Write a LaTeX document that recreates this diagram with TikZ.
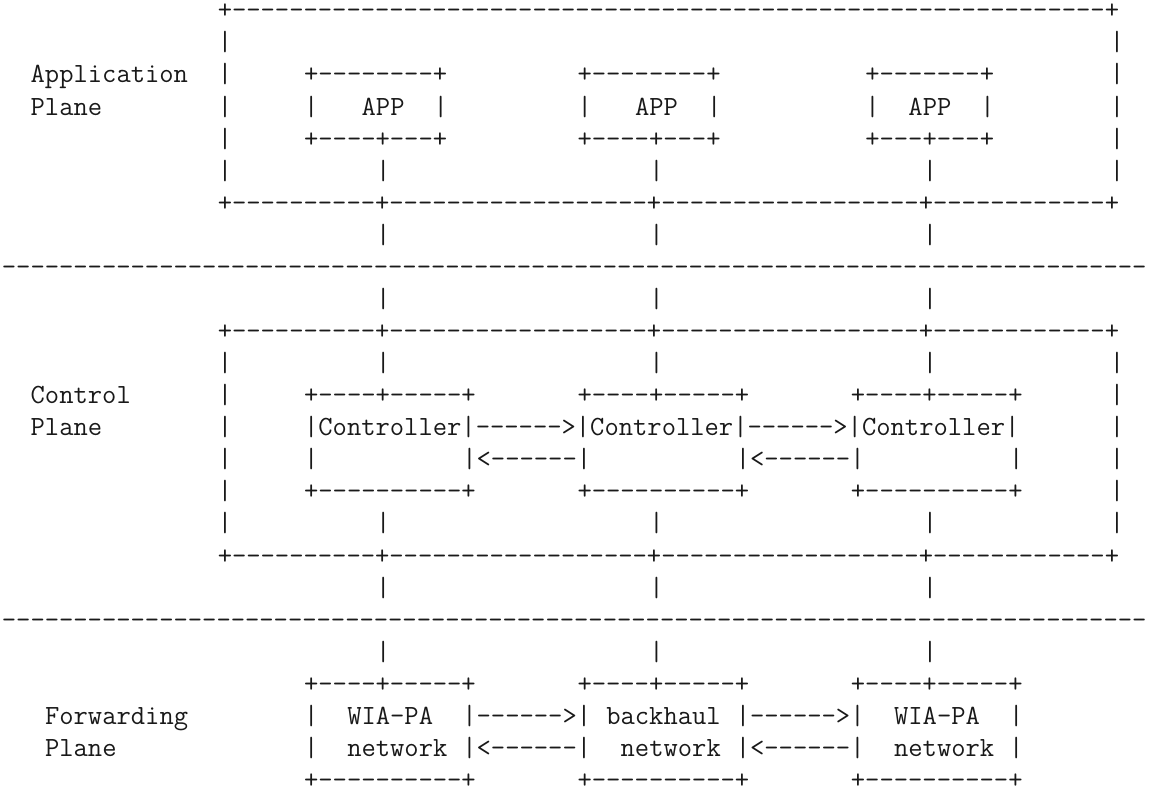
\documentclass[tikz,border=0pt]{standalone}
\usepackage{fontspec}
\ExplSyntaxOn
\cs_new:Npn \myrep #1#2 {\prg_replicate:nn{#1}{#2}}
\ExplSyntaxOff
\tikzset{txt/.style={anchor=base west, inner sep=0pt, outer sep=0pt, text=black!90,
  text depth=0pt, font=\ttfamily\fontsize{27.78pt}{32pt}\selectfont}}
\newcommand\asciirow[2]{\foreach \colno/\celltext in {#2}{%
  \node[txt] (r#1c\colno) at ({(1.9+\colno*14.39)*1pt},{(13.21-#1*32.07)*1pt}) {\celltext};}}
\newcommand\bordertext{+\myrep{10}{-}+\myrep{18}{-}+\myrep{18}{-}+\myrep{12}{-}+}
\begin{document}
\begin{tikzpicture}
\useasboundingbox (0,0) rectangle (1164pt,-789pt);
% Application plane
\asciirow{1}{15/{+\myrep{61}{-}+}}
\asciirow{2}{15/|, 77/|}
\asciirow{3}{2/Application, 15/|, 21/{+\myrep{8}{-}+}, 40/{+\myrep{8}{-}+}, 60/{+\myrep{7}{-}+}, 77/|}
\asciirow{4}{2/Plane, 15/|, 21/|, 25/APP, 30/|, 40/|, 44/APP, 49/|, 60/|, 63/APP, 68/|, 77/|}
\asciirow{5}{15/|, 21/{+----+---+}, 40/{+----+---+}, 60/{+---+---+}, 77/|}
\asciirow{6}{15/|, 26/|, 45/|, 64/|, 77/|}
\asciirow{7}{15/{\bordertext}}
\asciirow{8}{26/|, 45/|, 64/|}
\asciirow{9}{0/{\myrep{80}{-}}}
% Control plane
\asciirow{10}{26/|, 45/|, 64/|}
\asciirow{11}{15/{\bordertext}}
\asciirow{12}{15/|, 26/|, 45/|, 64/|, 77/|}
\asciirow{13}{2/Control, 15/|, 21/{+----+-----+}, 40/{+----+-----+}, 59/{+----+-----+}, 77/|}
\asciirow{14}{2/Plane, 15/|, 21/{|Controller|------>|Controller|------>|Controller|}, 77/|}
\asciirow{15}{15/|, 21/|, 32/{|<------|}, 51/{|<------|}, 70/|, 77/|}
\asciirow{16}{15/|, 21/{+\myrep{10}{-}+}, 40/{+\myrep{10}{-}+}, 59/{+\myrep{10}{-}+}, 77/|}
\asciirow{17}{15/|, 26/|, 45/|, 64/|, 77/|}
\asciirow{18}{15/{\bordertext}}
\asciirow{19}{26/|, 45/|, 64/|}
\asciirow{20}{0/{\myrep{80}{-}}}
% Forwarding plane
\asciirow{21}{26/|, 45/|, 64/|}
\asciirow{22}{21/{+----+-----+}, 40/{+----+-----+}, 59/{+----+-----+}}
\asciirow{23}{3/Forwarding, 21/|, 24/WIA-PA, 32/{|------>|}, 42/backhaul, 51/{|------>|}, 62/WIA-PA, 70/|}
\asciirow{24}{3/Plane, 21/|, 24/network, 32/{|<------|}, 43/network, 51/{|<------|}, 62/network, 70/|}
\asciirow{25}{21/{+\myrep{10}{-}+}, 40/{+\myrep{10}{-}+}, 59/{+\myrep{10}{-}+}}
\end{tikzpicture}
\end{document}
